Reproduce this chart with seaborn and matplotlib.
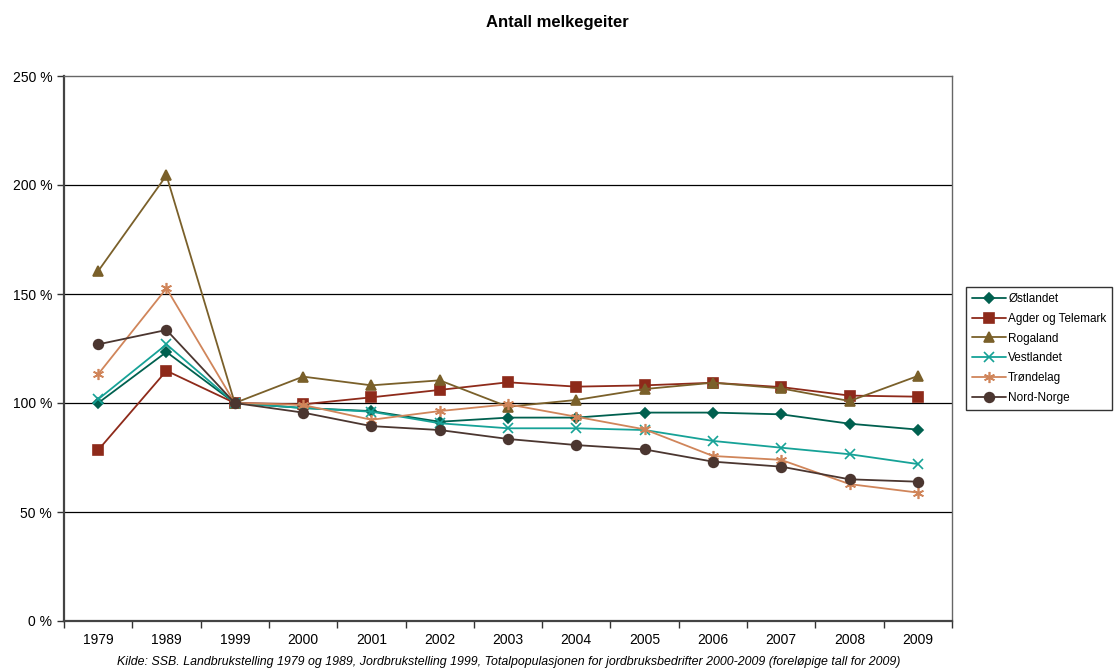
import numpy as np
import pandas as pd
import matplotlib
matplotlib.use('Agg')
import matplotlib.pyplot as plt
import seaborn as sns
from matplotlib.ticker import FuncFormatter, FixedLocator

# data (index, 1999 = 100)
years = ['1979', '1989', '1999', '2000', '2001', '2002', '2003',
         '2004', '2005', '2006', '2007', '2008', '2009']
ostlandet = [100.0, 123.4, 100.0, 97.7, 96.3, 91.4, 93.3, 93.3, 95.6, 95.6, 94.8, 90.5, 87.8]
agder = [78.4, 114.8, 100.0, 99.4, 102.6, 106.0, 109.5, 107.5, 108.1, 109.3, 107.3, 103.4, 102.9]
rogaland = [160.5, 204.4, 100.0, 112.1, 108.1, 110.4, 98.3, 101.4, 106.4, 109.3, 106.7, 100.9, 112.4]
vestlandet = [101.7, 126.9, 100.0, 97.7, 96.0, 90.7, 88.4, 88.4, 87.6, 82.6, 79.5, 76.5, 72.0]
trondelag = [113.2, 152.6, 100.0, 99.1, 92.3, 96.3, 99.4, 93.7, 87.9, 75.7, 73.9, 62.8, 58.9]
nordnorge = [126.9, 133.5, 100.0, 95.6, 89.4, 87.6, 83.5, 80.7, 78.7, 73.1, 70.8, 65.0, 63.9]

regions = ['Østlandet', 'Agder og Telemark', 'Rogaland', 'Vestlandet', 'Trøndelag', 'Nord-Norge']
series = [ostlandet, agder, rogaland, vestlandet, trondelag, nordnorge]

colors = ['#00604f', '#8e2a1a', '#7a602a', '#16a297', '#d0855a', '#4b3630']
markers = ['D', 's', '^', 'x', (6, 2, 0), 'o']
msizes = [5, 6.5, 7, 7, 8, 7]

sns.set_style('white')
plt.rcParams['font.family'] = ['Liberation Sans', 'DejaVu Sans']
plt.rcParams['text.color'] = 'black'
plt.rcParams['xtick.color'] = 'black'
plt.rcParams['ytick.color'] = 'black'

fig = plt.figure(figsize=(11.15, 6.7), dpi=100)
ax = fig.add_axes([64 / 1115, 1 - 621 / 670, 888 / 1115, 545 / 670])

pos = np.arange(len(years))
for name, vals, c, m, ms in zip(regions, series, colors, markers, msizes):
    d = pd.DataFrame({'pos': pos, 'verdi': vals})
    sns.lineplot(data=d, x='pos', y='verdi', color=c, marker=m, markersize=ms,
                 markeredgecolor=c, markeredgewidth=1.2, linewidth=1.3,
                 label=name, ax=ax, sort=False)

ax.set_xlim(-0.5, len(years) - 0.5)
ax.set_ylim(0, 250)
ax.set_yticks([0, 50, 100, 150, 200, 250])
ax.yaxis.set_major_formatter(FuncFormatter(lambda v, p: f'{int(v)} %'))
ax.set_xticks(pos)
ax.set_xticklabels(years)
ax.xaxis.set_minor_locator(FixedLocator(np.arange(-0.5, len(years), 1)))
ax.tick_params(axis='x', which='major', length=0, pad=9, labelsize=10)
ax.tick_params(axis='x', which='minor', length=5, width=1, color='#333333', direction='out', bottom=True)
ax.tick_params(axis='y', length=5, width=1, color='#333333', direction='out', labelsize=10, left=True)
ax.set_xlabel('')
ax.set_ylabel('')

for v in [50, 100, 150, 200]:
    ax.axhline(v, color='black', linewidth=0.9, zorder=0)

for side in ['left', 'bottom']:
    ax.spines[side].set_color('#444444')
    ax.spines[side].set_linewidth(1.6)
for side in ['top', 'right']:
    ax.spines[side].set_color('#666666')
    ax.spines[side].set_linewidth(1.0)

leg = ax.legend(loc='center left', bbox_to_anchor=(1.0155, 0.5), fontsize=8.5,
                frameon=True, fancybox=False, borderpad=0.5, handlelength=2.9,
                labelspacing=0.67, handletextpad=0.2, borderaxespad=0)
leg.get_frame().set_edgecolor('black')
leg.get_frame().set_linewidth(1.0)

fig.text(0.5, 1 - 22 / 670, 'Antall melkegeiter', ha='center', va='center',
         fontsize=12, fontweight='bold')
fig.text(509 / 1115, 1 - 662 / 670,
         'Kilde: SSB. Landbrukstelling 1979 og 1989, Jordbrukstelling 1999, '
         'Totalpopulasjonen for jordbruksbedrifter 2000-2009 (foreløpige tall for 2009)',
         ha='center', va='center', fontsize=8.9, style='italic')

fig.savefig('out.png', dpi=100)
